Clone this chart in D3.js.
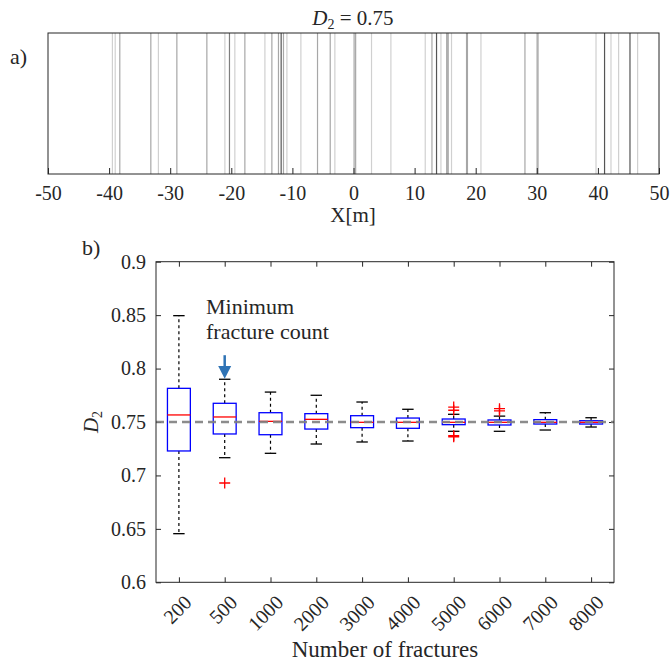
<!DOCTYPE html>
<html>
<head>
<meta charset="utf-8">
<script src="https://cdn.jsdelivr.net/npm/d3@7"></script>
<style>
  body { margin: 0; background: #fff; }
  svg text { font-family: 'Liberation Serif', 'DejaVu Serif', 'Liberation Sans', Arimo, sans-serif; fill: #262626; }
</style>
</head>
<body>
<svg id="fig" width="671" height="663"></svg>
<script>
// panel a) fracture positions along X [m] and their grey level (1 light .. 4 dark)
const fracX = [-39.46, -39.0, -38.25, -33.17, -31.93, -28.91, -24.0, -21.05, -20.3, -19.42,
  -17.78, -14.5, -13.36, -12.28, -11.84, -11.46, -10.9, -8.61, -5.89, -3.81, -3.05,
  0.1, 0.35, 2.95, 6.12, 11.74, 12.84, 13.59, 14.31, 15.3, 15.5, 16.04, 18.5, 18.65,
  20.86, 28.06, 30.05, 30.2, 39.69, 41.09, 42.14, 43.39, 45.25, 46.5]
const fracGrey = [1, 1, 2, 2, 1, 2, 2, 1, 3, 1,
  2, 1, 2, 2, 4, 2, 1, 1, 2, 2, 1,
  2, 2, 1, 1, 1, 2, 4, 1, 3, 2, 1, 2, 2,
  1, 2, 2, 2, 1, 4, 1, 1, 4, 1]
const xTicksA = [-50, -40, -30, -20, -10, 0, 10, 20, 30, 40, 50]

// panel b) box plot stats per number of fractures
const groups = ["200", "500", "1000", "2000", "3000", "4000", "5000", "6000", "7000", "8000"]
const whiskLo = [0.6455, 0.7166, 0.7207, 0.7294, 0.7313, 0.7322, 0.7413, 0.7413, 0.7425, 0.7453]
const q1 = [0.7229, 0.7388, 0.7381, 0.7434, 0.7447, 0.7441, 0.7475, 0.7472, 0.7481, 0.7481]
const med = [0.7566, 0.7547, 0.7506, 0.7525, 0.7497, 0.7497, 0.7497, 0.7497, 0.7497, 0.7497]
const q3 = [0.7815, 0.7675, 0.7587, 0.7578, 0.7559, 0.7537, 0.7528, 0.7519, 0.7522, 0.7512]
const whiskHi = [0.8495, 0.790, 0.778, 0.775, 0.7687, 0.7619, 0.7572, 0.7555, 0.7587, 0.754]
const outGroup = ["500", "5000", "5000", "5000", "5000", "6000", "6000"]
const outVal = [0.6929, 0.764, 0.761, 0.7372, 0.7362, 0.7625, 0.7605]
const yTicksB = [0.6, 0.65, 0.7, 0.75, 0.8, 0.85, 0.9]
const targetD2 = 0.75

var svg = d3.select("#fig")
var axisCol = "#262626"

// ---------- panel a ----------
var xa = d3.scaleLinear().domain([-50, 50]).range([48, 659])
var ta = 33, ba = 174
var grey = d3.scaleLinear().domain([1, 4]).range(["#d0d0d0", "#555555"])

svg.append("g").selectAll("line").data(fracX).join("line")
  .attr("x1", d => xa(d)).attr("x2", d => xa(d))
  .attr("y1", ta).attr("y2", ba)
  .attr("stroke", (d, i) => grey(fracGrey[i]))
  .attr("stroke-width", 1.2)

var axA = svg.append("g").attr("transform", "translate(0," + ba + ")")
  .call(d3.axisBottom(xa).tickValues(xTicksA).tickSizeInner(-6).tickSizeOuter(0).tickPadding(12).tickFormat(d => String(d)))
axA.select(".domain").remove()
axA.selectAll("line").attr("stroke", axisCol)
axA.selectAll("text").attr("font-size", 20).attr("fill", axisCol)

svg.append("rect").attr("x", 48).attr("y", ta).attr("width", 611).attr("height", ba - ta)
  .attr("fill", "none").attr("stroke", axisCol).attr("stroke-width", 1)

var title = svg.append("text").attr("x", 353).attr("y", 25).attr("text-anchor", "middle").attr("font-size", 21)
title.append("tspan").attr("font-style", "italic").text("D")
title.append("tspan").attr("font-size", 14).attr("dy", 4).text("2")
title.append("tspan").attr("dy", -4).text(" = 0.75")

svg.append("text").attr("x", 353).attr("y", 222).attr("text-anchor", "middle").attr("font-size", 21).text("X[m]")
svg.append("text").attr("x", 10).attr("y", 64).attr("font-size", 22).text("a)")
svg.append("text").attr("x", 82).attr("y", 255).attr("font-size", 22).text("b)")

// ---------- panel b ----------
var L = 156, R = 614, T = 261.7, B = 582.3
var y = d3.scaleLinear().domain([0.6, 0.9]).range([B, T])
var xb = d3.scalePoint().domain(groups).range([L, R]).padding(0.5)
var bw = xb.step() * 0.5

var axL = svg.append("g").attr("transform", "translate(" + L + ",0)")
  .call(d3.axisLeft(y).tickValues(yTicksB).tickSizeInner(-5).tickSizeOuter(0).tickPadding(10).tickFormat(d => String(d)))
var axR = svg.append("g").attr("transform", "translate(" + R + ",0)")
  .call(d3.axisRight(y).tickValues(yTicksB).tickSizeInner(-5).tickSizeOuter(0).tickFormat(""))
var axT = svg.append("g").attr("transform", "translate(0," + T + ")")
  .call(d3.axisTop(xb).tickSizeInner(-5).tickSizeOuter(0).tickFormat(""))
var axB = svg.append("g").attr("transform", "translate(0," + B + ")")
  .call(d3.axisBottom(xb).tickSizeInner(-5).tickSizeOuter(0).tickPadding(12))
;[axL, axR, axT, axB].forEach(function(g) {
  g.select(".domain").remove()
  g.selectAll("line").attr("stroke", axisCol)
})
axL.selectAll("text").attr("font-size", 20).attr("fill", axisCol)
axB.selectAll("text").attr("font-size", 20).attr("fill", axisCol)
  .attr("text-anchor", "end").attr("dy", 0)
  .attr("transform", "translate(5,13) rotate(-45)")

// whiskers
var stats = groups.map((g, i) => ({g: g, lo: whiskLo[i], q1: q1[i], med: med[i], q3: q3[i], hi: whiskHi[i]}))
var boxes = svg.append("g")
boxes.selectAll(".wu").data(stats).join("line")
  .attr("x1", d => xb(d.g)).attr("x2", d => xb(d.g))
  .attr("y1", d => y(d.q3)).attr("y2", d => y(d.hi))
  .attr("stroke", "#000").attr("stroke-width", 1.2).attr("stroke-dasharray", "3,3")
boxes.selectAll(".wl").data(stats).join("line")
  .attr("x1", d => xb(d.g)).attr("x2", d => xb(d.g))
  .attr("y1", d => y(d.q1)).attr("y2", d => y(d.lo))
  .attr("stroke", "#000").attr("stroke-width", 1.2).attr("stroke-dasharray", "3,3")
;["hi", "lo"].forEach(function(k) {
  boxes.selectAll(".cap" + k).data(stats).join("line")
    .attr("x1", d => xb(d.g) - bw / 4).attr("x2", d => xb(d.g) + bw / 4)
    .attr("y1", d => y(d[k])).attr("y2", d => y(d[k]))
    .attr("stroke", "#000").attr("stroke-width", 1.3)
})
boxes.selectAll("rect").data(stats).join("rect")
  .attr("x", d => xb(d.g) - bw / 2).attr("width", bw)
  .attr("y", d => y(d.q3)).attr("height", d => y(d.q1) - y(d.q3))
  .attr("fill", "none").attr("stroke", "#0000ff").attr("stroke-width", 1.3)

// reference line
svg.append("line").attr("x1", L).attr("x2", R).attr("y1", y(targetD2)).attr("y2", y(targetD2))
  .attr("stroke", "#808080").attr("stroke-width", 2.5).attr("stroke-dasharray", "8,5")
  .attr("stroke-opacity", 0.9)

boxes.append("g").selectAll("line").data(stats).join("line")
  .attr("x1", d => xb(d.g) - bw / 2).attr("x2", d => xb(d.g) + bw / 2)
  .attr("y1", d => y(d.med)).attr("y2", d => y(d.med))
  .attr("stroke", "#ff0000").attr("stroke-width", 1.3)

// outliers
svg.append("g").selectAll("path").data(outVal).join("path")
  .attr("d", (d, i) => {
    var cx = xb(outGroup[i]), cy = y(d)
    return "M" + (cx - 5.5) + "," + cy + "H" + (cx + 5.5) + "M" + cx + "," + (cy - 5.5) + "V" + (cy + 5.5)
  })
  .attr("stroke", "#ff0000").attr("stroke-width", 1.3).attr("fill", "none")

// frame
svg.append("rect").attr("x", L).attr("y", T).attr("width", R - L).attr("height", B - T)
  .attr("fill", "none").attr("stroke", axisCol).attr("stroke-width", 1)

// labels
var yl = svg.append("text").attr("transform", "translate(98," + ((T + B) / 2) + ") rotate(-90)")
  .attr("text-anchor", "middle").attr("font-size", 21)
yl.append("tspan").attr("font-style", "italic").text("D")
yl.append("tspan").attr("font-size", 14).attr("dy", 4).text("2")
svg.append("text").attr("x", (L + R) / 2).attr("y", 657).attr("text-anchor", "middle").attr("font-size", 23)
  .text("Number of fractures")

// annotation
var ax = xb("500")
svg.append("text").attr("x", 206).attr("y", 314).attr("font-size", 22).text("Minimum")
svg.append("text").attr("x", 206).attr("y", 339).attr("font-size", 22).text("fracture count")
svg.append("line").attr("x1", ax).attr("x2", ax).attr("y1", y(0.8125)).attr("y2", y(0.8015))
  .attr("stroke", "#2f73b5").attr("stroke-width", 2.5)
svg.append("path")
  .attr("d", "M" + (ax - 6.5) + "," + y(0.8025) + "L" + (ax + 6.5) + "," + y(0.8025) + "L" + ax + "," + y(0.7905) + "Z")
  .attr("fill", "#2f73b5")
</script>
</body>
</html>
